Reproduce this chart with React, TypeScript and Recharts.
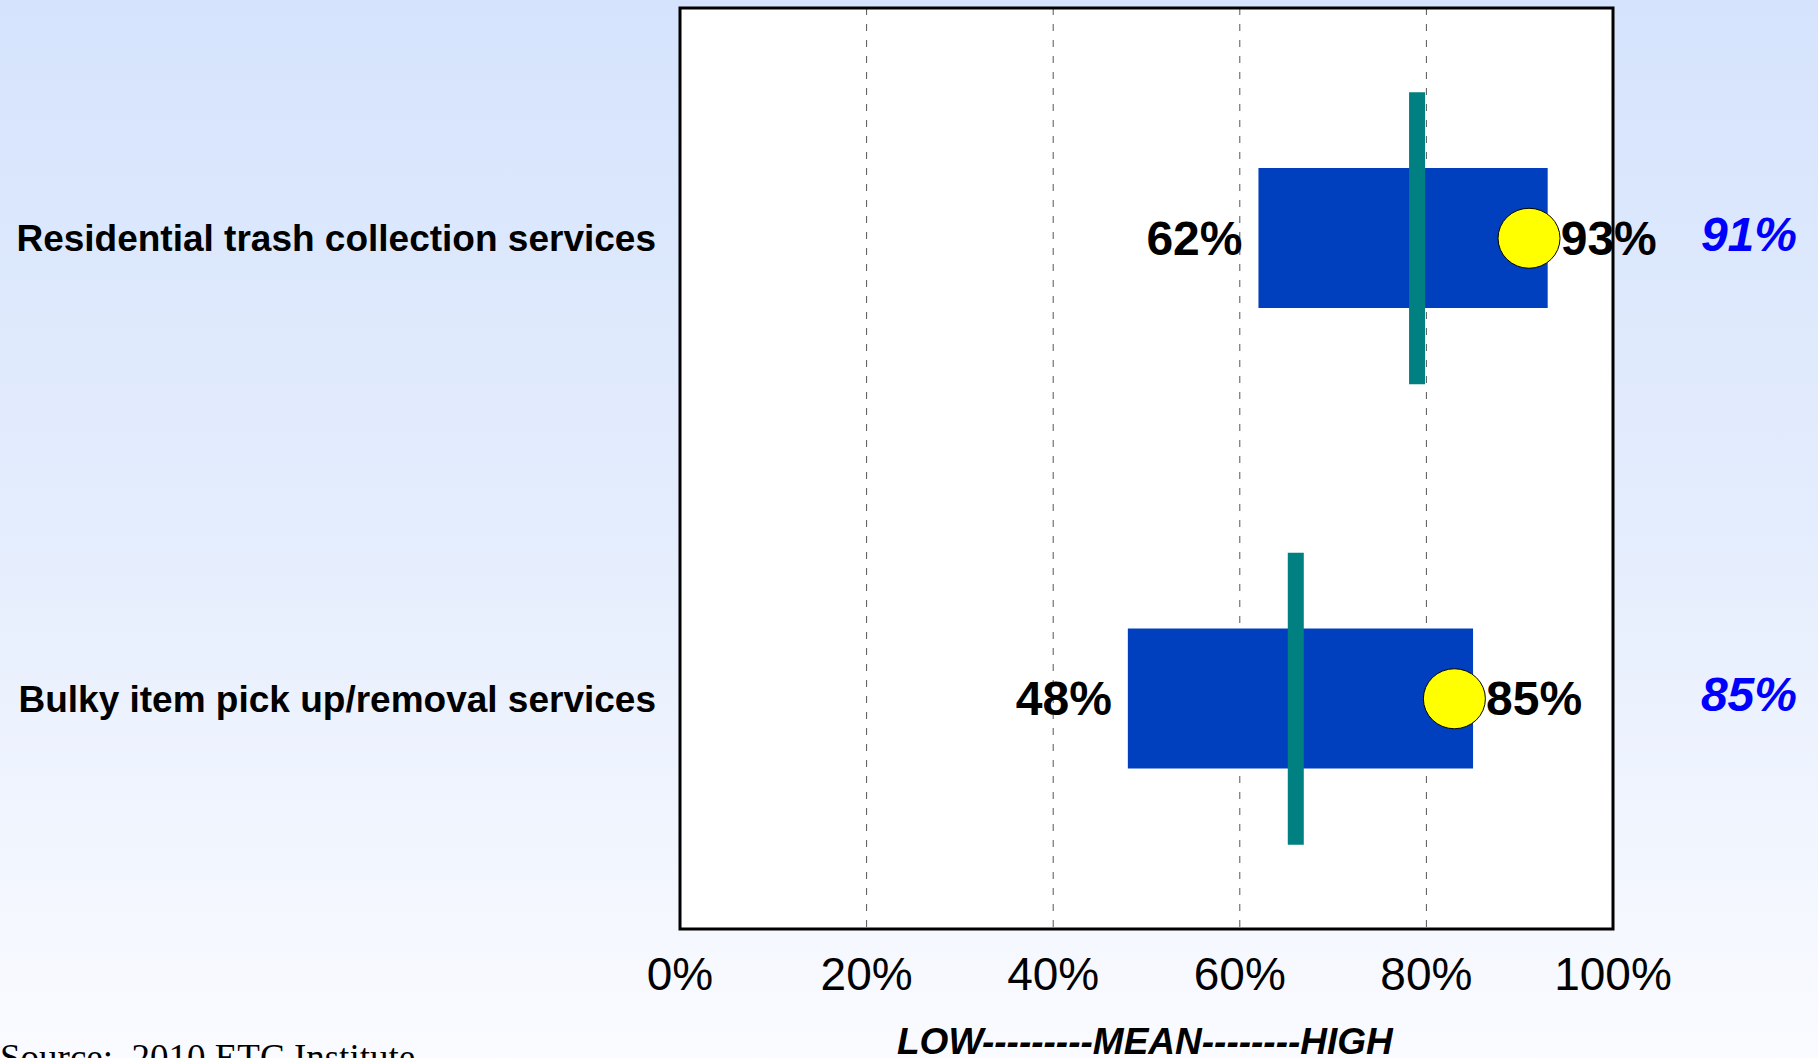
import React from "react";
import {
  ComposedChart,
  Bar,
  Scatter,
  XAxis,
  YAxis,
  CartesianGrid,
  ReferenceArea,
  LabelList,
} from "recharts";

const categories = [
  "Residential trash collection services",
  "Bulky item pick up/removal services",
];
const lowValues = [62, 48];
const highValues = [93, 85];
const meanValues = [79, 66];
const cityValues = [91, 83];
const cityLabels = ["91%", "85%"];
const xTicks = [0, 20, 40, 60, 80, 100];

const data = categories.map((name, i) => ({
  name,
  range: [lowValues[i], highValues[i]],
  low: lowValues[i],
  high: highValues[i],
  mean: meanValues[i],
  city: cityValues[i],
  cityLabel: cityLabels[i],
}));

const W = 1818;
const H = 1058;
const margin = { top: 8, right: 205, bottom: 29, left: 0 };
const plotRight = W - margin.right;

const FONT = "Arial, 'Liberation Sans', sans-serif";

const MeanShape = (props: any) => {
  const { cx, cy } = props;
  if (cx == null || cy == null) return null;
  return <rect x={cx - 8} y={cy - 146} width={16} height={292} fill="#008080" />;
};

const CityShape = (props: any) => {
  const { cx, cy } = props;
  if (cx == null || cy == null) return null;
  return (
    <ellipse cx={cx} cy={cy} rx={31} ry={30} fill="#FFFF00" stroke="#000" strokeWidth={1} />
  );
};

const renderRangeLabels = (props: any) => {
  const { x, y, width, height, index } = props;
  const cy = y + height / 2;
  const d = data[index];
  return (
    <g>
      <text
        x={x - 16}
        y={cy}
        textAnchor="end"
        dominantBaseline="central"
        fontFamily={FONT}
        fontWeight="bold"
        fontSize={48}
        fill="#000"
      >
        {d.low}%
      </text>
      <text
        x={x + width + 13}
        y={cy}
        textAnchor="start"
        dominantBaseline="central"
        fontFamily={FONT}
        fontWeight="bold"
        fontSize={48}
        fill="#000"
      >
        {d.high}%
      </text>
      <text
        x={plotRight + 184}
        y={cy - 4}
        textAnchor="end"
        dominantBaseline="central"
        fontFamily={FONT}
        fontWeight="bold"
        fontStyle="italic"
        fontSize={48}
        fill="#0000FF"
      >
        {d.cityLabel}
      </text>
    </g>
  );
};

export default function App() {
  return (
    <div
      style={{
        position: "absolute",
        left: 0,
        top: 0,
        width: W,
        height: H,
        overflow: "hidden",
        background: "linear-gradient(to bottom, #D5E3FC 0%, #E4EDFD 50%, #FAFBFF 100%)",
      }}
    >
      <ComposedChart width={W} height={H} data={data} layout="vertical" margin={margin}>
        <CartesianGrid
          horizontal={false}
          stroke="#555"
          strokeDasharray="7 9"
          fill="#FFFFFF"
          fillOpacity={1}
        />
        <XAxis
          type="number"
          domain={[0, 100]}
          ticks={xTicks}
          tickFormatter={(v: number) => `${v}%`}
          axisLine={false}
          tickLine={false}
          tickMargin={22}
          tick={{ fill: "#000", fontSize: 46, fontFamily: FONT }}
          interval={0}
          height={100}
        />
        <YAxis
          type="category"
          dataKey="name"
          width={680}
          axisLine={false}
          tickLine={false}
          tickSize={0}
          tickMargin={24}
          tick={{ fill: "#000", fontSize: 37, fontWeight: "bold", fontFamily: FONT }}
        />
        <Bar dataKey="range" barSize={140} fill="#0040BE" isAnimationActive={false}>
          <LabelList dataKey="range" content={renderRangeLabels} />
        </Bar>
        <Scatter dataKey="mean" shape={<MeanShape />} isAnimationActive={false} />
        <Scatter dataKey="city" shape={<CityShape />} isAnimationActive={false} />
        <ReferenceArea
          x1={0}
          x2={100}
          fill="none"
          stroke="#000"
          strokeWidth={3}
          ifOverflow="visible"
        />
      </ComposedChart>
      <div
        style={{
          position: "absolute",
          left: 897,
          top: 1020,
          fontFamily: FONT,
          fontWeight: "bold",
          fontStyle: "italic",
          fontSize: 37,
          lineHeight: "44px",
          whiteSpace: "pre",
        }}
      >
        LOW---------MEAN--------HIGH
      </div>
      <div
        style={{
          position: "absolute",
          left: 0,
          top: 1036,
          fontFamily: "'Times New Roman', 'Liberation Serif', serif",
          fontSize: 37,
          lineHeight: "44px",
          whiteSpace: "pre",
        }}
      >
        {"Source:  2010 ETC Institute"}
      </div>
    </div>
  );
}
